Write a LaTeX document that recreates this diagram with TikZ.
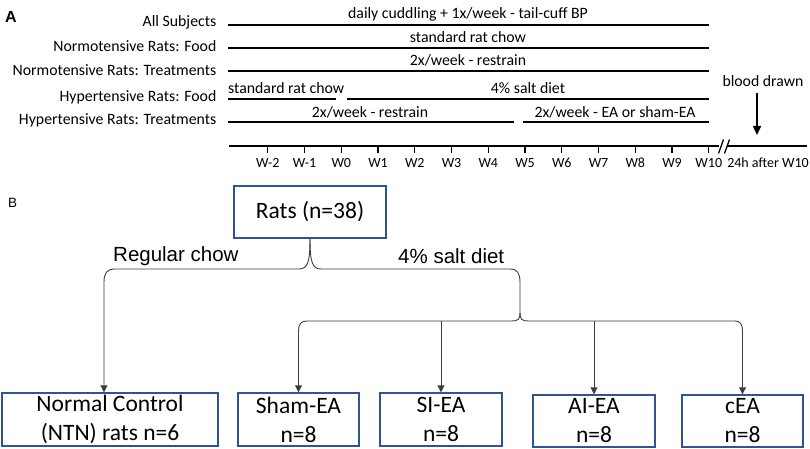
\documentclass[tikz,border=0pt]{standalone}
\usepackage{fontspec}
\setmainfont{Carlito}
\newfontfamily\arialf{Liberation Sans}
\usetikzlibrary{arrows.meta}
\definecolor{boxblue}{RGB}{47,84,150}
\definecolor{conngray}{RGB}{60,60,60}
\begin{document}
\begin{tikzpicture}[x=1pt,y=-1pt,
  rowlbl/.style={font=\fontsize{15.8}{18}\selectfont, anchor=base east, inner sep=0pt},
  bartxt/.style={font=\fontsize{15.8}{18}\selectfont, anchor=base, inner sep=0pt},
  bar/.style={line width=2pt},
  tickln/.style={line width=1.3pt},
  wk/.style={font=\fontsize{14}{16}\selectfont, anchor=base, inner sep=0pt},
  grpbox/.style={draw=boxblue, line width=1.4pt, inner sep=0pt, align=center, font=\fontsize{23.5}{29}\selectfont},
  conn/.style={draw=conngray, line width=0.9pt},
  arr/.style={conn, -{Triangle[length=7pt,width=7pt]}},
]
\useasboundingbox (0,0) rectangle (810,449);
% ---------- Panel A ----------
\node[font=\arialf\bfseries\fontsize{16}{18}\selectfont, anchor=base west, inner sep=0pt] (A) at (5,23) {A};
\node[rowlbl] (l1) at (216.5,26.5) {All Subjects};
\node[rowlbl] (l2) at (216.5,52) {Normotensive Rats: Food};
\node[rowlbl] (l3) at (216.5,75.5) {Normotensive Rats: Treatments};
\node[rowlbl] (l4) at (216.5,102) {Hypertensive Rats: Food};
\node[rowlbl] (l5) at (216.5,125) {Hypertensive Rats: Treatments};

\draw[bar] (228,25) -- (709,25);
\node[bartxt] (t1) at (468,18.5) {daily cuddling + 1x/week - tail-cuff BP};
\draw[bar] (228,47.7) -- (709,47.7);
\node[bartxt] (t2) at (468,42.5) {standard rat chow};
\draw[bar] (228,71.3) -- (709,71.3);
\node[bartxt] (t3) at (468,66) {2x/week - restrain};
\draw[bar] (228,98.7) -- (336,98.7);
\node[bartxt, anchor=base west] (t4) at (228,93.5) {standard rat chow};
\draw[bar] (347,98.7) -- (709,98.7);
\node[bartxt] (t5) at (528,93.5) {4\% salt diet};
\draw[bar] (228,122.5) -- (514,122.5);
\node[bartxt] (t6) at (370,117.5) {2x/week - restrain};
\draw[bar] (523,122.5) -- (709,122.5);
\node[bartxt] (t7) at (615,117.5) {2x/week - EA or sham-EA};

% time axis
\draw[bar] (229,146.5) -- (719,146.5);
\draw[bar] (727,146.5) -- (807,146.5);
\draw[tickln] (718.5,153.5) -- (723.5,139.5);
\draw[tickln] (724.5,153.5) -- (729.5,139.5);
\foreach \k/\t in {-2/W-2,-1/W-1,0/W0,1/W1,2/W2,3/W3,4/W4,5/W5,6/W6,7/W7,8/W8,9/W9,10/W10}{
  \draw[tickln] (341.3+36.75*\k,146.5) -- ++(0,7);
  \node[wk] (w\k) at (341.3+36.75*\k,167.5) {\t};
}
\node[wk] (after) at (768,167.5) {24h after W10};
\node[bartxt] (blood) at (763,87) {blood drawn};
\coordinate (bloodtip) at (757,135);
\draw[line width=1.5pt, -{Triangle[length=9pt,width=8pt]}] ([yshift=-6pt]blood.south -| bloodtip) -- (bloodtip);

% ---------- Panel B ----------
\node[font=\arialf\fontsize{13.5}{15}\selectfont, anchor=base west, inner sep=0pt] (B) at (8,207.5) {B};
\node[grpbox, minimum width=152pt, minimum height=52pt] (rats) at (310,212) {Rats (n=38)};

\node[grpbox, minimum width=216pt, minimum height=53pt] (nc) at (110,419.5) {Normal Control\\(NTN) rats n=6};
\node[grpbox, minimum width=121pt, minimum height=53pt] (sham) at (298.5,419.5) {Sham-EA\\n=8};
\node[grpbox, minimum width=122pt, minimum height=53pt] (si) at (441,419.5) {SI-EA\\n=8};
\node[grpbox, minimum width=122pt, minimum height=52pt] (ai) at (594,421) {AI-EA\\n=8};
\node[grpbox, minimum width=121pt, minimum height=52pt] (cea) at (742.5,421) {cEA\\n=8};

\node[font=\arialf\fontsize{20.5}{24}\selectfont, anchor=base west, inner sep=0pt] (reg) at (113,261) {Regular chow};
\node[font=\arialf\fontsize{20.5}{24}\selectfont, anchor=base west, inner sep=0pt] (salt) at (398,263) {4\% salt diet};

\coordinate (lowbar) at (520,321);
\coordinate (split) at (520,313);

\draw[arr] (rats.south) .. controls (310,261) and (308,269) .. (299,269) -- (115,269)
   .. controls (107,269) and (104,273) .. (104,282) -- ([xshift=-6pt]nc.north);
\draw[arr] (rats.south) .. controls (310,261) and (312,269) .. (321,269) -- (510,269)
   .. controls (517,269) and (520,273) .. (520,282) -- (split)
   .. controls (520,319) and (518,321) .. (512,321) -- (307,321)
   .. controls (301,321) and (298.5,324) .. (298.5,331) -- (sham.north);
\draw[arr] (split) .. controls (520,319) and (522,321) .. (528,321) -- (735,321)
   .. controls (740,321) and (742.5,324) .. (742.5,331) -- (cea.north);
\draw[arr] (si.north |- lowbar) -- (si.north);
\draw[arr] (ai.north |- lowbar) -- (ai.north);
\end{tikzpicture}
\end{document}
